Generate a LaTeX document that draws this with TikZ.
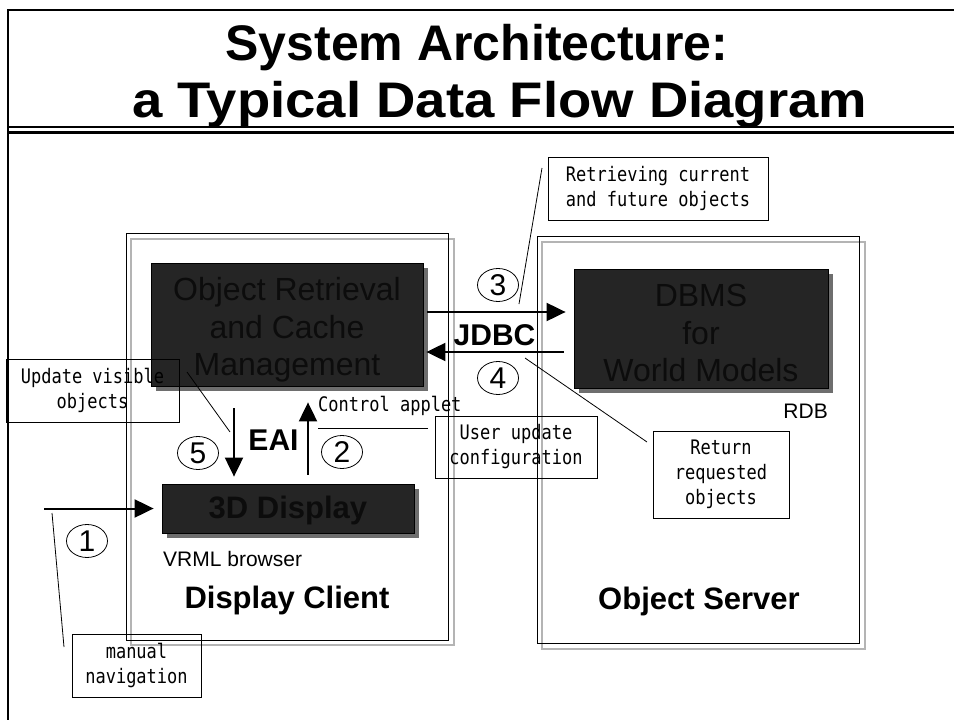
\documentclass[tikz,border=0pt]{standalone}
\usepackage{fontspec}
\setmainfont{Liberation Sans}
\newfontfamily\calfont[FakeStretch=0.85]{DejaVu Sans Mono}
\usetikzlibrary{arrows.meta,shapes.geometric,shadows}
\definecolor{darkfill}{HTML}{252525}
\definecolor{shadowgray}{HTML}{6E6E6E}
\definecolor{darktext}{HTML}{0C0C0C}
\definecolor{framegray}{HTML}{B4B4B4}
\begin{document}
\begin{tikzpicture}[x=1pt,y=-1pt,
  frameblk/.style={draw=black,line width=1pt,inner sep=0pt},
  framegry/.style={draw=framegray,line width=1.5pt,inner sep=0pt},
  darkbox/.style={draw=black,line width=0.8pt,fill=darkfill,inner sep=0pt,
    drop shadow={shadow xshift=5pt,shadow yshift=-5pt,fill=shadowgray,opacity=1}},
  darklabel/.style={text=darktext,align=center,inner sep=0pt,font=\fontsize{32}{37.5}\selectfont},
  callout/.style={draw=black,line width=1pt,align=center,inner sep=0pt,font=\calfont\fontsize{20}{25}\selectfont},
  leader/.style={draw=black,line width=0.8pt},
  arr/.style={line width=2pt,-{Triangle[length=19pt,width=18pt]}},
  num/.style={draw=black,ellipse,line width=0.8pt,minimum width=41pt,minimum height=33pt,inner sep=0pt,font=\fontsize{30}{30}\selectfont},
  boldlabel/.style={anchor=base,inner sep=0pt,font=\bfseries\fontsize{30}{30}\selectfont},
  plainlabel/.style={anchor=base,inner sep=0pt,font=\fontsize{21}{21}\selectfont},
  titletext/.style={inner sep=0pt,font=\bfseries\fontsize{50}{57}\selectfont}
]
\useasboundingbox (0,0) rectangle (954,720);
\fill[white] (0,0) rectangle (954,720);

% page frame
\draw[line width=2.5pt] (8,9) -- (8,720);
\draw[line width=2pt] (7,10) -- (954,10);
\draw[line width=1.5pt] (7,127) -- (954,127);
\draw[line width=3.5pt] (7,132.5) -- (954,132.5);

% title
\node[titletext,anchor=base] (title1) at (477,60) {System Architecture:};
\node[titletext,anchor=base west] (title2) at (132,117) {\scalebox{1.09}[1]{a Typical Data Flow Diagram}};

% client and server frames
\node[framegry,minimum width=323pt,minimum height=406pt] (clientS) at (292.5,442) {};
\node[frameblk,minimum width=322pt,minimum height=407pt] (client) at (287,436.5) {};
\node[framegry,minimum width=323pt,minimum height=407pt] (serverS) at (703.5,445.5) {};
\node[frameblk,minimum width=322pt,minimum height=407pt] (server) at (698,439.5) {};

% dark boxes
\node[darkbox,minimum width=272pt,minimum height=123pt] (retr) at (287,324.5) {};
\node[darkbox,minimum width=254pt,minimum height=119pt] (dbms) at (701,328.5) {};
\node[darkbox,minimum width=252pt,minimum height=49pt] (disp) at (288,508.5) {};
\node[darklabel] (retrT) at (287,330) {Object Retrieval\\and Cache\\Management};
\node[darklabel] (dbmsT) at (701,333) {DBMS\\for\\World Models};
\node[darklabel,font=\bfseries\fontsize{31}{31}\selectfont,anchor=base] (dispT) at (288,518) {3D Display};

% labels
\node[boldlabel,font=\bfseries\fontsize{31}{31}\selectfont] (clientL) at (287,608) {Display Client};
\node[boldlabel,font=\bfseries\fontsize{31}{31}\selectfont] (serverL) at (699,609) {Object Server};
\node[boldlabel] (jdbc) at (494.5,345) {JDBC};
\node[boldlabel] (eai) at (273.5,450) {EAI};
\node[plainlabel,anchor=base west] (vrml) at (163,566) {VRML browser};
\node[plainlabel,anchor=base east] (rdb) at (828,418) {RDB};
\node[anchor=base west,inner sep=0pt,font=\calfont\fontsize{20}{20}\selectfont] (ctrl) at (318,411) {Control applet};

% arrows
\coordinate (navstart) at (44,508.5);
\draw[arr,shorten >=8pt] (navstart) -- (disp.west);
\draw[arr,shorten <=4pt,shorten >=8pt] ([yshift=12.5pt]retr.east) -- ([yshift=16.5pt]dbms.west);
\draw[arr,shorten <=10pt,shorten >=3pt] ([yshift=-23.5pt]dbms.west) -- ([yshift=-27.5pt]retr.east);
\draw[arr,shorten <=22pt,shorten >=7pt] ([xshift=-53pt]retr.south) -- ([xshift=-54pt]disp.north);
\draw[arr,shorten <=9pt,shorten >=16pt] ([xshift=20pt]disp.north) -- ([xshift=21pt]retr.south);

% step numbers
\node[num] (n1) at (87,541) {1};
\node[num] (n2) at (342,452) {2};
\node[num] (n3) at (498,285) {3};
\node[num] (n4) at (498,378) {4};
\node[num] (n5) at (198,453) {5};

% callouts
\node[callout,minimum width=220pt,minimum height=63pt] (cRetr) at (658,188.5) {Retrieving current\\and future objects};
\node[callout,minimum width=173pt,minimum height=63pt] (cUpd) at (92.5,390.5) {Update visible\\objects};
\node[callout,minimum width=162pt,minimum height=62pt] (cUser) at (516,447) {User update\\configuration};
\node[callout,minimum width=136pt,minimum height=87pt] (cRet) at (721,474.5) {Return\\requested\\objects};
\node[callout,minimum width=129pt,minimum height=63pt] (cNav) at (136.5,665.5) {manual\\navigation};

% leader lines
\coordinate (l3a) at (542,168); \coordinate (l3b) at (519,304);
\draw[leader] (l3a) -- (l3b);
\coordinate (l5a) at (187,372); \coordinate (l5b) at (230,432);
\draw[leader] (l5a) -- (l5b);
\coordinate (l2a) at (428,428); \coordinate (l2b) at (318,428);
\draw[leader] (l2a) -- (l2b);
\coordinate (l4a) at (525,358); \coordinate (l4b) at (647,442);
\draw[leader] (l4a) -- (l4b);
\coordinate (l1a) at (52,513); \coordinate (l1b) at (64,647);
\draw[leader] (l1a) -- (l1b);
\end{tikzpicture}
\end{document}
